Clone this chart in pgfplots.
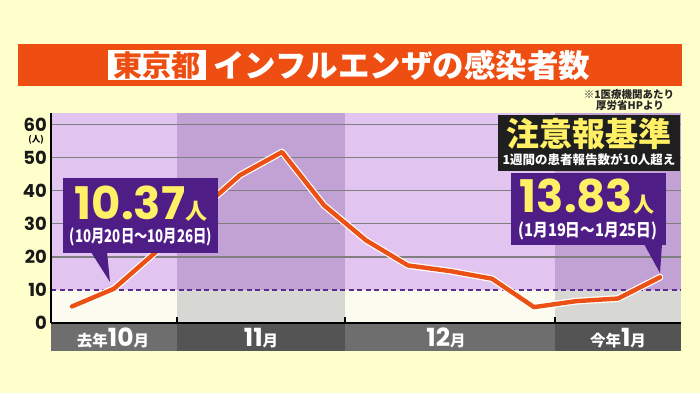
\documentclass[border=0pt]{standalone}
\usepackage{fontspec}
\setmainfont{Noto Sans CJK JP}
\newfontfamily\jp{Noto Sans CJK JP}
\newfontfamily\pop{Poppins}
\usepackage{graphicx}
\usepackage{pgfplots}
\usepackage{pgfplotstable}
\pgfplotsset{compat=1.18}

\definecolor{bgyellow}{HTML}{FFFFCC}
\definecolor{titleor}{HTML}{EE4E12}
\definecolor{lightpur}{HTML}{E1C4F0}
\definecolor{darkpur}{HTML}{C2A2D4}
\definecolor{ivory}{HTML}{FBFBEF}
\definecolor{lgrey}{HTML}{D7D7D3}
\definecolor{bandA}{HTML}{6E6E6E}
\definecolor{bandB}{HTML}{545454}
\definecolor{calpur}{HTML}{4F1D86}
\definecolor{calyel}{HTML}{FFF066}
\definecolor{lineor}{HTML}{EB5014}
\definecolor{dashpur}{HTML}{5B2D8E}
\definecolor{gridc}{HTML}{7F7F7F}

\pgfplotstableread{
i v
0 5.0
1 10.37
2 21.5
3 33.5
4 44.7
5 51.7
6 35.6
7 25.0
8 17.4
9 15.7
10 13.4
11 4.8
12 6.6
13 7.4
14 13.83
}\flu

\begin{document}
\begin{tikzpicture}[x=1pt,y=1pt]
\fill[bgyellow] (0,0) rectangle (700,393);
% title bar
\fill[titleor] (18,307) rectangle (682,349);
\fill[white] (108,313) rectangle (206,343);
\node[text=titleor, inner sep=0pt, font=\jp\bfseries\fontsize{29}{29}\selectfont] at (157,328) {東京都};
\node[anchor=west, inner sep=0pt, text=white, font=\jp\bfseries\fontsize{31.5}{31.5}\selectfont] at (213,328) {インフルエンザの感染者数};
% note
\node[inner sep=0pt, font=\jp\bfseries\fontsize{10.5}{10.5}\selectfont, text=black!85] at (629,298) {※1医療機関あたり};
\node[inner sep=0pt, font=\jp\bfseries\fontsize{10.5}{10.5}\selectfont, text=black!85] at (630,287) {厚労省HPより};
% plot backgrounds (x: 51..681, y: 70..280; value 10 at 103.07)
\fill[lightpur] (51,103.07) rectangle (177,280);
\fill[darkpur] (177,103.07) rectangle (345,280);
\fill[lightpur] (345,103.07) rectangle (555,280);
\fill[darkpur] (555,103.07) rectangle (681,280);
\fill[ivory] (51,70) rectangle (177,103.07);
\fill[lgrey] (177,70) rectangle (345,103.07);
\fill[ivory] (345,70) rectangle (555,103.07);
\fill[lgrey] (555,70) rectangle (681,103.07);
% bottom month bands
\fill[bandA] (51,42) rectangle (177,70);
\fill[bandB] (177,42) rectangle (345,70);
\fill[bandA] (345,42) rectangle (555,70);
\fill[bandB] (555,42) rectangle (681,70);
% grid lines
\foreach \yy in {136.14,169.21,202.28,235.35,268.42}
  \draw[gridc, line width=1.3pt] (51,\yy) -- (681,\yy);
\draw[dashpur, line width=1.3pt, dash pattern=on 5pt off 3.5pt] (51,103.07) -- (681,103.07);
% month labels
\node[anchor=base, inner sep=0pt, text=white] at (113,47) {{\jp\bfseries\fontsize{15.5}{15.5}\selectfont 去年}{\pop\bfseries\fontsize{25}{25}\selectfont 10}{\jp\bfseries\fontsize{15.5}{15.5}\selectfont 月}};
\node[anchor=base, inner sep=0pt, text=white] at (261,47) {{\pop\bfseries\fontsize{25}{25}\selectfont 11}{\jp\bfseries\fontsize{15.5}{15.5}\selectfont 月}};
\node[anchor=base, inner sep=0pt, text=white] at (446,47) {{\pop\bfseries\fontsize{25}{25}\selectfont 12}{\jp\bfseries\fontsize{15.5}{15.5}\selectfont 月}};
\node[anchor=base, inner sep=0pt, text=white] at (618,47) {{\jp\bfseries\fontsize{15.5}{15.5}\selectfont 今年}{\pop\bfseries\fontsize{25}{25}\selectfont 1}{\jp\bfseries\fontsize{15.5}{15.5}\selectfont 月}};

\begin{axis}[
  at={(51pt,70pt)}, anchor=south west, scale only axis,
  width=630pt, height=210pt,
  xmin=-0.5, xmax=14.5, ymin=0, ymax=63.5,
  axis lines*=left,
  axis line style={-, black, line width=2.2pt},
  xtick={2.5,6.5,11.5}, xticklabels={,,},
  tick align=inside,
  xtick style={black, line width=1.5pt},
  major tick length=6pt,
  ytick={0,10,20,30,40,50,60},
  yticklabels={0,10,20,30,40,50,60},
  ytick style={draw=none},
  yticklabel style={font=\pop\bfseries\fontsize{18}{18}\selectfont, text=black!90, inner sep=0pt, anchor=east, xshift=-4pt},
  clip=false,
]
\addplot[white, line width=6.8pt, line join=round, line cap=round] table[x=i,y=v]{\flu};
\addplot[lineor, line width=4.4pt, line join=round, line cap=round] table[x=i,y=v]{\flu};
\end{axis}
\node[inner sep=0pt, font=\jp\bfseries\fontsize{8.5}{8.5}\selectfont] at (36,253.5) {(人)};

% 注意報基準 box
\fill[black!88] (498,222) rectangle (680,278);
\node[inner sep=0pt, text=calyel, font=\jp\bfseries\fontsize{33}{33}\selectfont] at (589,259) {注意報基準};
\node[inner sep=0pt, text=white, font=\jp\bfseries\fontsize{12.5}{12.5}\selectfont] at (589,233) {1週間の患者報告数が10人超え};

% left callout
\fill[calpur] (63,140) rectangle (218,215);
\fill[calpur] (91,141) -- (107,141) -- (110,111) -- cycle;
\node[anchor=base, inner sep=0pt, text=calyel] at (141,173) {{\pop\bfseries\fontsize{45}{45}\selectfont 10.37}{\jp\bfseries\fontsize{22}{22}\selectfont 人}};
\node[inner sep=0pt, text=white, font=\jp\bfseries\fontsize{17.5}{17.5}\selectfont] at (141,156) {\resizebox{142pt}{\height}{(10月20日〜10月26日)}};

% right callout
\fill[calpur] (511,148) rectangle (666,220);
\fill[calpur] (644,149) -- (662,149) -- (660,120) -- cycle;
\node[anchor=base, inner sep=0pt, text=calyel] at (587,180.5) {{\pop\bfseries\fontsize{45}{45}\selectfont 13.83}{\jp\bfseries\fontsize{21}{21}\selectfont 人}};
\node[inner sep=0pt, text=white, font=\jp\bfseries\fontsize{17.5}{17.5}\selectfont] at (588,162.5) {\resizebox{139pt}{\height}{(1月19日〜1月25日)}};
\end{tikzpicture}
\end{document}
